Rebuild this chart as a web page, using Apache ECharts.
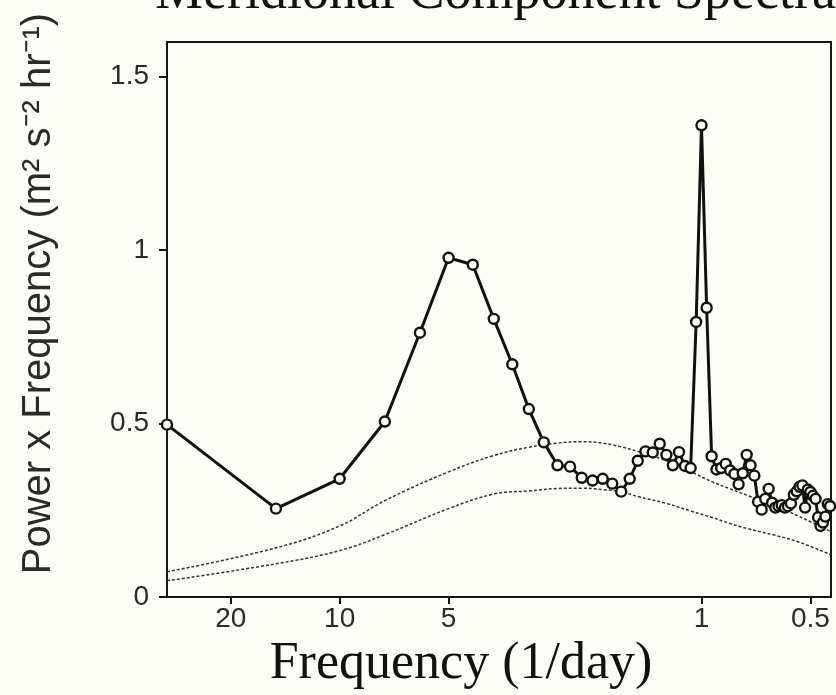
<!DOCTYPE html>
<html><head><meta charset="utf-8">
<script src="https://cdn.jsdelivr.net/npm/echarts@6/dist/echarts.min.js"></script>
<style>html,body{margin:0;padding:0;background:#fdfdf8;} #c{width:836px;height:695px;}</style>
</head><body><div id="c"></div>
<script>
// Record length (days): spectral estimates are at frequency k / recordDays (cycles per day)
const recordDays = 30;
const harmonics = [1,2,3,4,5,6,7,8,9,10,11,12,13,14,15,16,17,18,19,20,
  21,22,23,24,25,26,27,28,29,30,31,32,33,34,35,36,37,38,39,40,
  41,42,43,44,45,46,47,48,49,50,51,52,53,54,55,56,57,58,59,60,
  61,62,63,64,65,66,67,68];
const powerTimesFreq = [0.497,0.255,0.341,0.506,0.762,0.978,0.958,0.802,0.671,0.542,
  0.446,0.380,0.376,0.344,0.336,0.341,0.327,0.304,0.341,0.393,
  0.420,0.417,0.442,0.410,0.380,0.418,0.378,0.372,0.793,1.360,
  0.834,0.406,0.368,0.372,0.384,0.365,0.355,0.325,0.357,0.410,
  0.380,0.350,0.275,0.252,0.283,0.312,0.272,0.258,0.262,0.265,
  0.258,0.262,0.270,0.295,0.305,0.318,0.322,0.258,0.310,0.303,
  0.292,0.283,0.230,0.205,0.215,0.232,0.268,0.262];
// Reference (noise) curves, read at selected harmonics
const curveHarmonics = [1,2,3,4,6,8,10,12,14,16,18,20,24,28,32,36,40,48,56,68];
const upperCurve = [0.073,0.142,0.205,0.278,0.361,0.408,0.432,0.444,0.448,0.444,
  0.433,0.420,0.393,0.362,0.333,0.312,0.294,0.263,0.232,0.190];
const lowerCurve = [0.047,0.096,0.134,0.180,0.255,0.297,0.306,0.313,0.314,0.310,
  0.304,0.290,0.270,0.248,0.230,0.212,0.198,0.178,0.158,0.123];
const xTickPeriods = [20,10,5,1,0.5];   // labels in days
const yTicks = [0,0.5,1,1.5];
const xMinFreq = 1/30, xMaxFreq = 2.28;

const lg = v => Math.log10(v);
const toPts = (ks, vals) => ks.map((k,i) => [lg(k/recordDays), vals[i]]);

const chart = echarts.init(document.getElementById('c'), null, {renderer:'canvas'});
const axisCol = '#151515';
chart.setOption({
  backgroundColor:'#fdfdf8',
  animation:false,
  title:{text:'Meridional Component Spectra', left:150, top:-38,
    textStyle:{fontFamily:'Liberation Serif', fontSize:54, fontWeight:'normal', color:'#111'}},
  grid:{left:167, right:5, top:42, bottom:96, show:true, borderColor:axisCol, borderWidth:2, backgroundColor:'transparent'},
  xAxis:{type:'value', min:lg(xMinFreq), max:lg(xMaxFreq),
    name:'Frequency (1/day)', nameLocation:'middle', nameGap:38,
    nameTextStyle:{fontFamily:'Liberation Serif', fontSize:52, color:'#111', padding:[0,76,0,0]},
    axisLine:{show:true, onZero:false, lineStyle:{color:axisCol, width:2}},
    axisTick:{show:true, inside:false, length:7, lineStyle:{color:axisCol, width:2},
      customValues: xTickPeriods.map(p=>lg(1/p))},
    axisLabel:{margin:8, fontFamily:'Liberation Sans', fontSize:28, color:'#2a2a2a',
      customValues: xTickPeriods.map(p=>lg(1/p)),
      formatter: v => String(Math.round(100/Math.pow(10,v))/100)},
    splitLine:{show:false}},
  yAxis:{type:'value', min:0, max:1.6,
    name:'Power x Frequency (m\u00B2 s\u207B\u00B2 hr\u207B\u00B9)', nameLocation:'middle', nameGap:108,
    nameTextStyle:{fontFamily:'Liberation Sans', fontSize:40, color:'#2a2a2a', padding:[0,0,0,52]},
    axisLine:{show:true, onZero:false, lineStyle:{color:axisCol, width:2}},
    axisTick:{show:true, inside:false, length:8, lineStyle:{color:axisCol, width:2}, customValues:yTicks},
    axisLabel:{margin:18, fontFamily:'Liberation Sans', fontSize:28, color:'#2a2a2a', customValues:yTicks,
      formatter: v => String(v)},
    splitLine:{show:false}},
  series:[
    {type:'line', data:toPts(curveHarmonics, upperCurve), smooth:0.4, showSymbol:false, symbol:'none',
      lineStyle:{color:'#333', width:1.5, type:[3,2]}, z:2},
    {type:'line', data:toPts(curveHarmonics, lowerCurve), smooth:0.4, showSymbol:false, symbol:'none',
      lineStyle:{color:'#333', width:1.5, type:[3,2]}, z:2},
    {type:'line', data:toPts(harmonics, powerTimesFreq), symbol:'circle', symbolSize:10,
      itemStyle:{color:'#fdfdf8', borderColor:'#111', borderWidth:2.4},
      lineStyle:{color:'#111', width:3}, z:3, clip:false}
  ]
});
</script></body></html>
